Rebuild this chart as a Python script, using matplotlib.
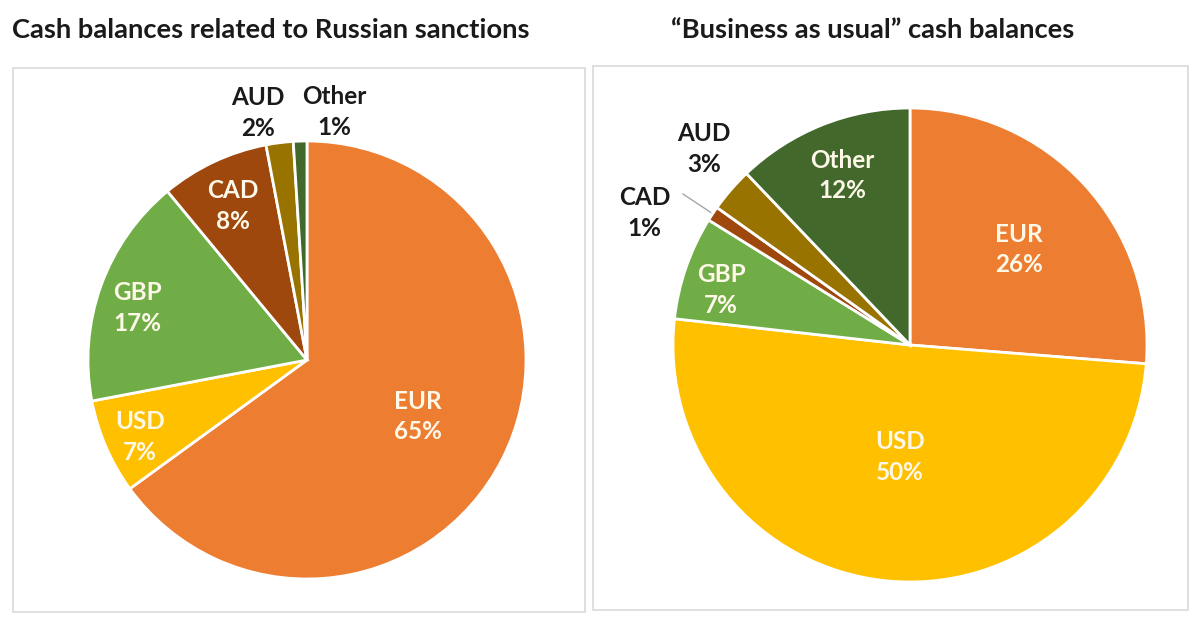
import matplotlib.pyplot as plt
from matplotlib.patches import Rectangle
import numpy as np

plt.rcParams['font.family'] = ['Lato', 'DejaVu Sans']

currencies = ['EUR', 'USD', 'GBP', 'CAD', 'AUD', 'Other']
colors = ['#ED7D31', '#FFC000', '#70AD47', '#9E480E', '#997300', '#43682B']

sanctions = [65, 7, 17, 8, 2, 1]
usual = [26, 50, 7, 1, 3, 12]

titles = ['Cash balances related to Russian sanctions',
          '\u201cBusiness as usual\u201d cash balances']

# label placement: (radius factor, angle shift in degrees, inside?)
left_lab = [(0.57, 0, True), (0.84, 1.4, True), (0.81, 2.7, True),
            (0.78, 0.6, True), (1.15, 4, False), (1.14, -8, False)]
right_lab = [(0.61, -1.4, True), (0.475, 0.4, True), (0.83, 2.8, True),
             (1.25, 7.2, False), (1.2, -2.7, False), (0.77, -0.2, True)]

W, H = 1200, 629
fig = plt.figure(figsize=(12, 6.29), dpi=100)
fig.patch.set_facecolor('white')

# frames around the two charts
for x0, y0, x1, y1 in [(13, 68, 585, 612), (593, 66, 1188, 610)]:
    fig.patches.append(Rectangle((x0 / W, 1 - y1 / H), (x1 - x0) / W, (y1 - y0) / H,
                                 transform=fig.transFigure, fill=False,
                                 edgecolor='#D9D9D9', linewidth=1.2))

fig.text(12 / W, 1 - 30 / H, titles[0], fontsize=19.7, fontweight='bold',
         ha='left', va='center', color='#1a1a1a')
fig.text(873 / W, 1 - 30 / H, titles[1], fontsize=19.7, fontweight='bold',
         ha='center', va='center', color='#1a1a1a')


def draw_pie(cx, cy, r, values, labs, leader=None):
    ax = fig.add_axes([(cx - r) / W, 1 - (cy + r) / H, 2 * r / W, 2 * r / H])
    wedges, _ = ax.pie(values, colors=colors, startangle=90, counterclock=False,
                       wedgeprops=dict(edgecolor='white', linewidth=2))
    ax.set_xlim(-1, 1)
    ax.set_ylim(-1, 1)
    ax.set_aspect('equal')
    ax.axis('off')
    for w, name, v, (rf, shift, inside) in zip(wedges, currencies, values, labs):
        ang = np.deg2rad((w.theta1 + w.theta2) / 2 + shift)
        x, y = rf * np.cos(ang), rf * np.sin(ang)
        ax.text(x, y, f'{name}\n{v}%', ha='center', va='center', fontsize=17.5,
                fontweight='bold', linespacing=1.4,
                color='#FDF8E8' if inside else '#1a1a1a', clip_on=False)
        if leader is not None and name == leader:
            mid = np.deg2rad((w.theta1 + w.theta2) / 2)
            ax.plot([1.01 * np.cos(mid), 1.15 * np.cos(mid)],
                    [1.01 * np.sin(mid), 1.15 * np.sin(mid)],
                    color='#A6A6A6', linewidth=1, clip_on=False)
    return ax


draw_pie(307, 360, 219, sanctions, left_lab)
draw_pie(910, 345, 237, usual, right_lab, leader='CAD')

fig.savefig('out.png', dpi=100, facecolor='white')
